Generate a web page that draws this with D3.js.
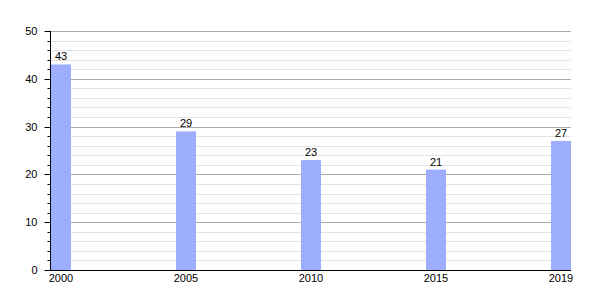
<!DOCTYPE html>
<html lang="en">
<head>
    <meta charset="UTF-8">
    <title>Bar chart</title>
    <script src="https://cdnjs.cloudflare.com/ajax/libs/d3/7.8.5/d3.min.js"></script>
    <style>
        * { margin: 0; padding: 0; box-sizing: border-box; }
        body { background: white; font-family: 'Liberation Sans', Arial, sans-serif; }
        text { font-size: 11px; fill: #000; }
    </style>
</head>
<body>
    <div id="chart"></div>
    <script>
        const years = ['2000', '2005', '2010', '2015', '2019'];
        const values = [43, 29, 23, 21, 27];
        const majorTicks = [0, 10, 20, 30, 40, 50];

        const width = 600, height = 300;
        const margin = { left: 50, right: 29, top: 31, bottom: 30 };

        const svg = d3.select('#chart').append('svg')
            .attr('width', width)
            .attr('height', height);

        const x = d3.scaleBand()
            .domain(years)
            .range([margin.left + 1, width - margin.right])
            .paddingInner(0.84)
            .paddingOuter(0);

        const y = d3.scaleLinear()
            .domain([0, 50])
            .range([height - margin.bottom, margin.top]);

        // minor grid
        const minorTicks = d3.range(0, 51, 2).filter(v => v % 10 !== 0);
        svg.append('g').selectAll('line')
            .data(minorTicks)
            .enter().append('line')
            .attr('x1', margin.left + 1)
            .attr('x2', width - margin.right)
            .attr('y1', d => Math.round(y(d)) + 0.5)
            .attr('y2', d => Math.round(y(d)) + 0.5)
            .attr('stroke', '#e4e4e4');

        // major grid
        svg.append('g').selectAll('line')
            .data(majorTicks.filter(v => v > 0))
            .enter().append('line')
            .attr('x1', margin.left + 1)
            .attr('x2', width - margin.right)
            .attr('y1', d => Math.round(y(d)) + 0.5)
            .attr('y2', d => Math.round(y(d)) + 0.5)
            .attr('stroke', '#aaaaaa');

        // bars
        svg.append('g').selectAll('rect')
            .data(values)
            .enter().append('rect')
            .attr('x', (d, i) => x(years[i]))
            .attr('y', d => y(d))
            .attr('width', x.bandwidth())
            .attr('height', d => y(0) - y(d))
            .attr('fill', '#9daeff');

        // value labels
        svg.append('g').selectAll('text')
            .data(values)
            .enter().append('text')
            .attr('x', (d, i) => x(years[i]) + x.bandwidth() / 2)
            .attr('y', d => y(d) - 4)
            .attr('text-anchor', 'middle')
            .text(d => d);

        // y axis
        const yAxis = svg.append('g')
            .attr('transform', `translate(${margin.left + 0.5},0)`);
        yAxis.append('line')
            .attr('y1', y(50)).attr('y2', y(0))
            .attr('stroke', '#000');
        yAxis.selectAll('.minor')
            .data(d3.range(0, 51, 2))
            .enter().append('line')
            .attr('x1', -3).attr('x2', 0)
            .attr('y1', d => Math.round(y(d)) + 0.5)
            .attr('y2', d => Math.round(y(d)) + 0.5)
            .attr('stroke', '#000');
        yAxis.selectAll('.major')
            .data(majorTicks)
            .enter().append('line')
            .attr('x1', -6).attr('x2', 0)
            .attr('y1', d => Math.round(y(d)) + 0.5)
            .attr('y2', d => Math.round(y(d)) + 0.5)
            .attr('stroke', '#000');
        yAxis.selectAll('text')
            .data(majorTicks)
            .enter().append('text')
            .attr('x', -13)
            .attr('y', d => y(d) + 4)
            .attr('text-anchor', 'end')
            .text(d => d);

        // x axis
        svg.append('line')
            .attr('x1', margin.left)
            .attr('x2', width - margin.right)
            .attr('y1', y(0) + 0.5)
            .attr('y2', y(0) + 0.5)
            .attr('stroke', '#000');
        svg.append('g').selectAll('text')
            .data(years)
            .enter().append('text')
            .attr('x', d => x(d) + x.bandwidth() / 2)
            .attr('y', y(0) + 12)
            .attr('text-anchor', 'middle')
            .text(d => d);
    </script>
</body>
</html>
